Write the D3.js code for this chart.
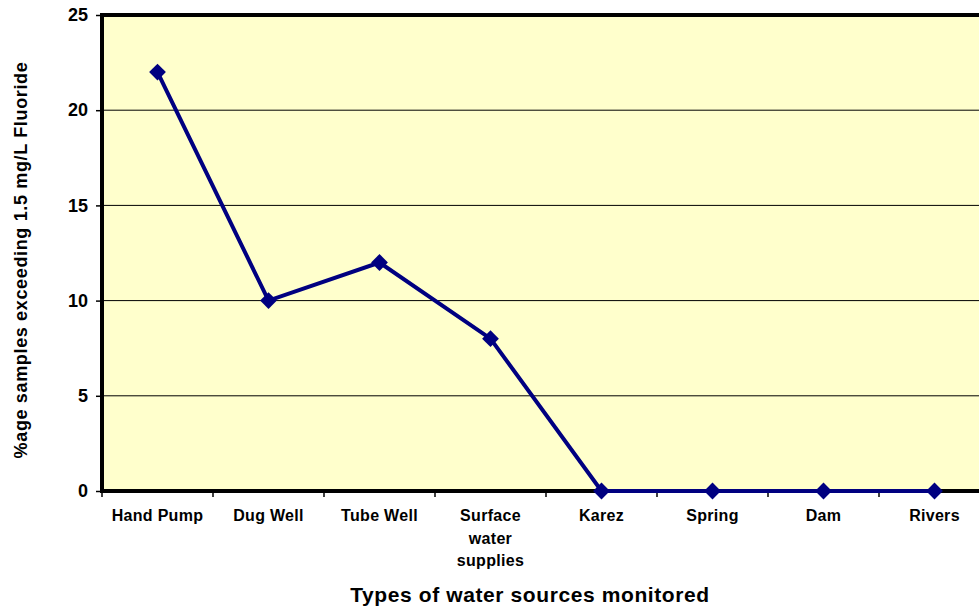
<!DOCTYPE html>
<html>
<head>
<meta charset="utf-8">
<script src="https://cdn.jsdelivr.net/npm/d3@7"></script>
<style>
  body { margin: 0; background: white; }
  text { font-family: Arial, "Liberation Sans", sans-serif; font-weight: bold; }
</style>
</head>
<body>
<div id="chart"></div>
<script>
const categories = ["Hand Pump", "Dug Well", "Tube Well", "Surface water supplies", "Karez", "Spring", "Dam", "Rivers"];
const values = [22, 10, 12, 8, 0, 0, 0, 0];
const yTicks = [0, 5, 10, 15, 20, 25];

const width = 979, height = 609;
const plotLeft = 102, plotTop = 15, plotRight = 990, plotBottom = 491;

const svg = d3.select("#chart")
    .append("svg")
    .attr("width", width)
    .attr("height", height);

const x = d3.scaleBand().domain(categories).range([plotLeft, plotRight]);
const y = d3.scaleLinear().domain([0, 25]).range([plotBottom, plotTop]);

// plot background
svg.append("rect")
    .attr("x", plotLeft).attr("y", plotTop)
    .attr("width", plotRight - plotLeft).attr("height", plotBottom - plotTop)
    .style("fill", "#FFFFCC");

// grid lines
svg.append("g")
    .selectAll("line")
    .data(yTicks.filter(d => d > 0 && d < 25))
    .join("line")
    .attr("x1", plotLeft).attr("x2", plotRight)
    .attr("y1", d => y(d)).attr("y2", d => y(d))
    .style("stroke", "black").style("stroke-width", 1);

// y axis
const yAxis = svg.append("g")
    .attr("transform", "translate(" + plotLeft + ",0)")
    .call(d3.axisLeft(y).tickValues(yTicks).tickSize(6).tickPadding(8));
yAxis.select(".domain").remove();
yAxis.selectAll("line").style("stroke", "black").style("stroke-width", 1.5);
yAxis.selectAll("text").style("font-size", "18px").attr("fill", "black");

// x axis: ticks on band boundaries
const xAxisG = svg.append("g");
xAxisG.selectAll("line")
    .data(categories)
    .join("line")
    .attr("x1", d => x(d)).attr("x2", d => x(d))
    .attr("y1", plotBottom).attr("y2", plotBottom + 6)
    .style("stroke", "black").style("stroke-width", 1.5);

xAxisG.selectAll("text")
    .data(categories)
    .join("text")
    .attr("x", d => x(d) + x.bandwidth() / 2)
    .attr("y", plotBottom + 30)
    .attr("text-anchor", "middle")
    .style("font-size", "16px")
    .style("letter-spacing", "0.3px")
    .each(function (d) {
        const words = d === "Surface water supplies" ? ["Surface", "water", "supplies"] : [d];
        const t = d3.select(this);
        words.forEach((w, i) => {
            t.append("tspan")
                .attr("x", x(d) + x.bandwidth() / 2)
                .attr("dy", i === 0 ? 0 : 22.5)
                .text(w);
        });
    });

// frame
svg.append("line")
    .attr("x1", plotLeft).attr("x2", plotRight)
    .attr("y1", plotTop).attr("y2", plotTop)
    .style("stroke", "black").style("stroke-width", 4);
svg.append("line")
    .attr("x1", plotLeft).attr("x2", plotLeft)
    .attr("y1", plotTop - 2).attr("y2", plotBottom + 2)
    .style("stroke", "black").style("stroke-width", 4);
svg.append("line")
    .attr("x1", plotLeft).attr("x2", plotRight)
    .attr("y1", plotBottom).attr("y2", plotBottom)
    .style("stroke", "black").style("stroke-width", 4);

// data line
const line = d3.line()
    .x((d, i) => x(categories[i]) + x.bandwidth() / 2)
    .y(d => y(d));

svg.append("path")
    .datum(values)
    .attr("d", line)
    .style("fill", "none")
    .style("stroke", "#000080")
    .style("stroke-width", 4);

svg.append("g")
    .selectAll("path")
    .data(values)
    .join("path")
    .attr("d", d3.symbol().type(d3.symbolDiamond2).size(180))
    .attr("transform", (d, i) => "translate(" + (x(categories[i]) + x.bandwidth() / 2) + "," + y(d) + ")")
    .style("fill", "#000080");

// axis titles
svg.append("text")
    .attr("x", 530)
    .attr("y", 602)
    .attr("text-anchor", "middle")
    .style("font-size", "21px")
    .style("letter-spacing", "0.6px")
    .text("Types of water sources monitored");

svg.append("text")
    .attr("transform", "translate(27,260) rotate(-90)")
    .attr("text-anchor", "middle")
    .style("font-size", "18px")
    .style("letter-spacing", "0.65px")
    .text("%age samples exceeding 1.5 mg/L Fluoride");
</script>
</body>
</html>
